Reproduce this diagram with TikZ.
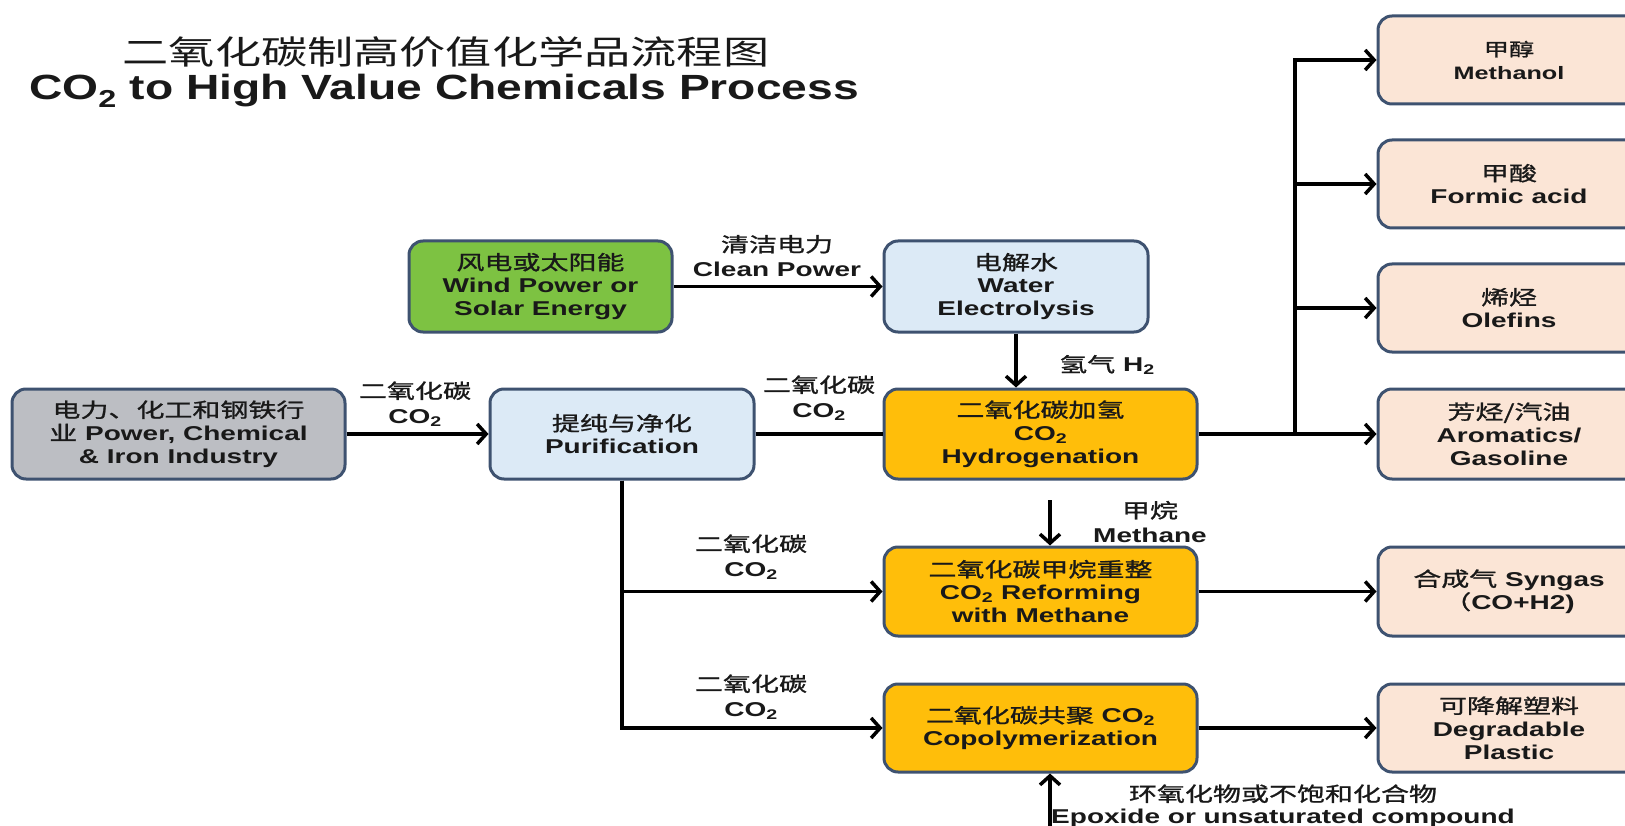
\documentclass[tikz,border=0pt]{standalone}
\usepackage{fontspec}
\setmainfont[FakeStretch=1.4]{Liberation Sans}
\newfontfamily\cjk[FakeStretch=1.4]{Noto Sans CJK SC}
\newfontfamily\cjkb[FakeStretch=1.4,FakeBold=1.2]{Noto Sans CJK SC}
\newfontfamily\titlef[FakeStretch=1.32]{Liberation Sans}
\usetikzlibrary{arrows.meta}
\definecolor{bordc}{RGB}{62,82,112}
\definecolor{greenc}{RGB}{125,194,66}
\definecolor{bluec}{RGB}{220,234,246}
\definecolor{grayc}{RGB}{188,190,195}
\definecolor{orangec}{RGB}{255,190,10}
\definecolor{peachc}{RGB}{251,229,214}
\definecolor{txtc}{RGB}{25,25,25}
\newcommand\zh[1]{{\cjkb\mdseries #1}}
\newcommand\cotwo{CO\textsubscript{2}}
\tikzset{
  box/.style={draw=bordc, line width=3pt, rounded corners=14pt, align=center,
    text=txtc, inner sep=0pt, font=\fontsize{20}{23}\selectfont\bfseries},
  lbl/.style={align=center, text=txtc, inner sep=0pt, font=\fontsize{20}{25}\selectfont\bfseries},
  arr/.style={line width=3.5pt, -{Straight Barb[length=9pt,width=20pt]}},
  ln/.style={line width=3.5pt}
}
\begin{document}
\begin{tikzpicture}[x=1pt,y=-1pt]
\useasboundingbox (0,0) rectangle (1625,826);
\begin{scope}
\clip (0,0) rectangle (1625,826);
% title
\node[inner sep=0pt, text=txtc, font=\fontsize{33}{36}\selectfont\cjk] (t1) at (446,52) {二氧化碳制高价值化学品流程图};
\node[inner sep=0pt, text=txtc, font=\fontsize{35}{38}\selectfont\titlef\bfseries] (t2) at (444,91) {CO\textsubscript{2} to High Value Chemicals Process};
% boxes
\node[box, fill=greenc, minimum width=263pt, minimum height=91pt] (wind) at (540.5,286.5) {\zh{风电或太阳能}\\Wind Power or\\Solar Energy};
\node[box, fill=bluec, minimum width=264pt, minimum height=91pt] (water) at (1016,286.5) {\zh{电解水}\\Water\\Electrolysis};
\node[box, fill=grayc, minimum width=333pt, minimum height=90pt] (ind) at (178.5,434) {\zh{电力、化工和钢铁行}\\\zh{业} Power, Chemical\\\& Iron Industry};
\node[box, fill=bluec, minimum width=264pt, minimum height=90pt] (pur) at (622,434) {\zh{提纯与净化}\\Purification};
\node[box, fill=orangec, minimum width=313pt, minimum height=90pt] (hyd) at (1040.5,434) {\zh{二氧化碳加氢}\\\cotwo\\Hydrogenation};
\node[box, fill=orangec, minimum width=313pt, minimum height=89pt] (ref) at (1040.5,591.5) {\zh{二氧化碳甲烷重整}\\\cotwo{} Reforming\\with Methane};
\node[box, fill=orangec, minimum width=313pt, minimum height=88pt] (cop) at (1040.5,728) {\zh{二氧化碳共聚} \cotwo\\Copolymerization};
% products
\node[box, fill=peachc, minimum width=262pt, minimum height=88pt, font=\fontsize{18}{23}\selectfont\bfseries] (meth) at (1509,60) {\zh{甲醇}\\Methanol};
\node[box, fill=peachc, minimum width=262pt, minimum height=88pt] (form) at (1509,184) {\zh{甲酸}\\Formic acid};
\node[box, fill=peachc, minimum width=262pt, minimum height=88pt] (ole) at (1509,308) {\zh{烯烃}\\Olefins};
\node[box, fill=peachc, minimum width=262pt, minimum height=90pt] (aro) at (1509,434) {\zh{芳烃/汽油}\\Aromatics/\\Gasoline};
\node[box, fill=peachc, minimum width=262pt, minimum height=89pt] (syn) at (1509,591.5) {\zh{合成气} Syngas\\\zh{（}CO+H2)};
\node[box, fill=peachc, minimum width=262pt, minimum height=88pt] (pla) at (1509,728) {\zh{可降解塑料}\\Degradable\\Plastic};
% coordinates
\coordinate (br) at (1295,434);
\coordinate (mtop) at (1050,500);
\coordinate (ebot) at (1050,830);
% connectors
\draw[arr] (wind) -- (water);
\draw[arr] (water.south) -- (water.south |- hyd.north);
\draw[arr] (ind) -- (pur);
\draw[ln] (pur) -- (hyd);
\draw[arr] (hyd) -- (aro);
\draw[arr] (br) |- (meth.west);
\draw[arr] (br) |- (form.west);
\draw[arr] (br) |- (ole.west);
\draw[ln] (pur.south) -- (pur.south |- cop.west);
\draw[arr] (pur.south) |- (ref.west);
\draw[arr] (pur.south) |- (cop.west);
\draw[arr] (ref) -- (syn);
\draw[arr] (cop) -- (pla);
\draw[arr] (mtop) -- (mtop |- ref.north);
\draw[arr] (ebot) -- (ebot |- cop.south);
% labels
\node[lbl] (lclean) at (777,256) {\zh{清洁电力}\\Clean Power};
\node[lbl] (lh2) at (1107,365) {\zh{氢气} H\textsubscript{2}};
\node[lbl] (lco1) at (415,404) {\zh{二氧化碳}\\\cotwo};
\node[lbl] (lco2) at (819,398) {\zh{二氧化碳}\\\cotwo};
\node[lbl] (lco3) at (751,557) {\zh{二氧化碳}\\\cotwo};
\node[lbl] (lco4) at (751,697) {\zh{二氧化碳}\\\cotwo};
\node[lbl] (lmeth) at (1150,522) {\zh{甲烷}\\Methane};
\node[lbl, font=\fontsize{20}{22}\selectfont\bfseries] (lepo) at (1283,806) {\zh{环氧化物或不饱和化合物}\\Epoxide or unsaturated compound};
\end{scope}
\end{tikzpicture}
\end{document}
